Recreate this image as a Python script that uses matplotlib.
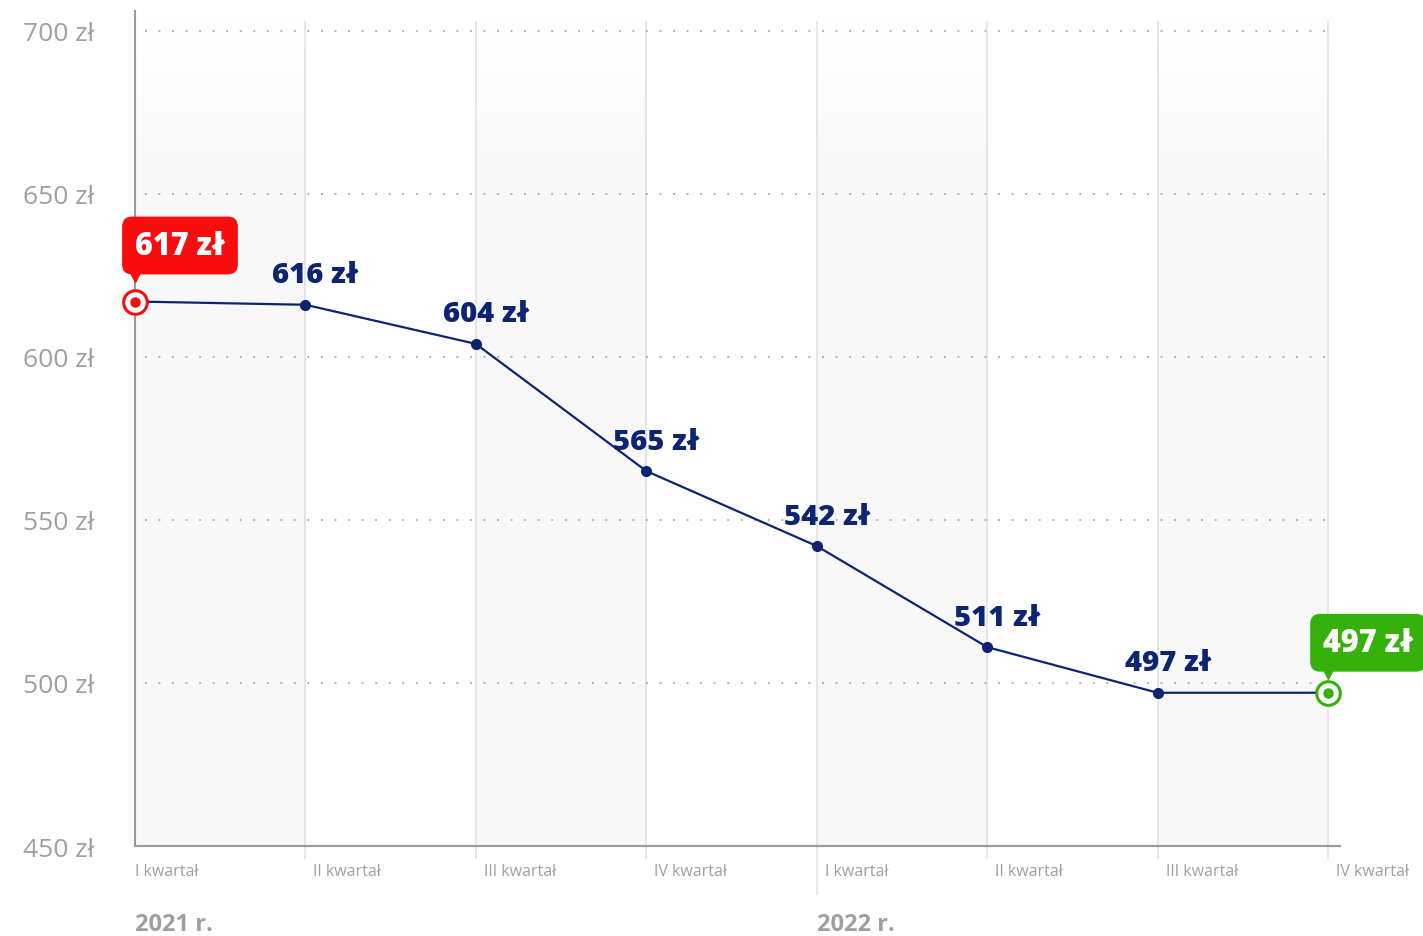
import numpy as np
import matplotlib.pyplot as plt
from matplotlib import transforms
from matplotlib.colors import LinearSegmentedColormap

# data
quarters = ["I kwartał", "II kwartał", "III kwartał", "IV kwartał",
            "I kwartał", "II kwartał", "III kwartał", "IV kwartał"]
values = [617, 616, 604, 565, 542, 511, 497, 497]
years = ["2021 r.", "2022 r."]
year_pos = [0, 4]
yticks = [450, 500, 550, 600, 650, 700]

navy = "#0d2473"
grey_txt = "#a0a0a0"
red = "#f70d0d"
green = "#36b10c"

plt.rcParams['font.family'] = ['Open Sans', 'DejaVu Sans']

fig = plt.figure(figsize=(14.23, 9.37), dpi=100)
ax = fig.add_axes([135 / 1423, 90 / 937, 1205 / 1423, 835 / 937])

x = np.arange(len(values))
ymin, ymax = 450, 706.1

# alternating shaded columns, fading to white at the top
cmap = LinearSegmentedColormap.from_list("shade", ["#f8f8f8", "#ffffff"])
rows = np.linspace(ymin, ymax, 200)
grad = np.interp(rows, [450, 655, 690, 706.1], [0, 0, 0.8, 1.0])[::-1].reshape(-1, 1)
for i in range(0, len(values) - 1, 2):
    ax.imshow(grad, extent=[i, i + 1, ymin, ymax], aspect='auto', cmap=cmap,
              vmin=0, vmax=1, zorder=0, interpolation='bilinear')

# vertical grid lines, running below the axis like ticks
for i in x[1:]:
    low = 435 if i == 4 else 446
    ax.vlines(i, low, 703, color="#e0e0e0", lw=1.1, clip_on=False, zorder=1)

# dotted horizontal grid lines
for v in yticks[1:]:
    ax.hlines(v, 0.06, 7, color="#aaaaaa", lw=1.3, linestyles=(0, (1, 6.5)), zorder=1)

# line
ax.plot(x, values, color=navy, lw=1.6, zorder=3)
ax.plot(x[1:-1], values[1:-1], 'o', color=navy, ms=7, zorder=4)

# point labels
for xi, v in zip(x[1:-1], values[1:-1]):
    ax.annotate(f"{v} zł", (xi, v), xytext=(10, 30), textcoords='offset pixels',
                ha='center', va='center', fontsize=21, fontweight='heavy',
                color=navy, zorder=5)

# highlighted first and last values
callouts = [(0, red, 45, 56, 26), (7, green, 40, 50, 20)]
for idx, col, dx, dy, tip in callouts:
    v = values[idx]
    ax.plot(idx, v, 'o', ms=17, mfc='white', mec=col, mew=2.2, zorder=6, clip_on=False)
    ax.plot(idx, v, 'o', ms=6.5, color=col, zorder=7, clip_on=False)
    ax.annotate(f"{v} zł", (idx, v), xytext=(dx, dy), textcoords='offset pixels',
                ha='center', va='center', fontsize=22, fontweight='heavy', color='white',
                bbox=dict(boxstyle="round,pad=0.4,rounding_size=0.3", fc=col, ec=col),
                zorder=8, annotation_clip=False)
    tr = transforms.offset_copy(ax.transData, fig=fig, x=0, y=tip, units='dots')
    ax.plot(idx, v, 'v', ms=9, color=col, transform=tr, zorder=8, clip_on=False)

# axes styling
ax.set_xlim(0, 7.07)
ax.set_ylim(ymin, ymax)
for s in ['top', 'right']:
    ax.spines[s].set_visible(False)
for s in ['left', 'bottom']:
    ax.spines[s].set_color("#9a9a9a")
    ax.spines[s].set_linewidth(1.5)

ax.set_yticks(yticks)
ax.set_yticklabels([f"{v} zł" for v in yticks])
ax.tick_params(axis='y', length=0, pad=29, labelsize=19, labelcolor=grey_txt)
ax.set_xticks([])

# quarter labels under the axis
for i, q in enumerate(quarters):
    tr = transforms.offset_copy(ax.get_xaxis_transform(), fig=fig,
                                x=0 if i == 0 else 8, y=-25, units='dots')
    ax.text(i, 0, q, transform=tr, ha='left', va='center', fontsize=11.5,
            color=grey_txt, clip_on=False)

# year labels
for p, yr in zip(year_pos, years):
    tr = transforms.offset_copy(ax.get_xaxis_transform(), fig=fig, x=0, y=-78, units='dots')
    ax.text(p, 0, yr, transform=tr, ha='left', va='center', fontsize=17,
            fontweight='bold', color=grey_txt, clip_on=False)

fig.savefig("out.png", dpi=100)
